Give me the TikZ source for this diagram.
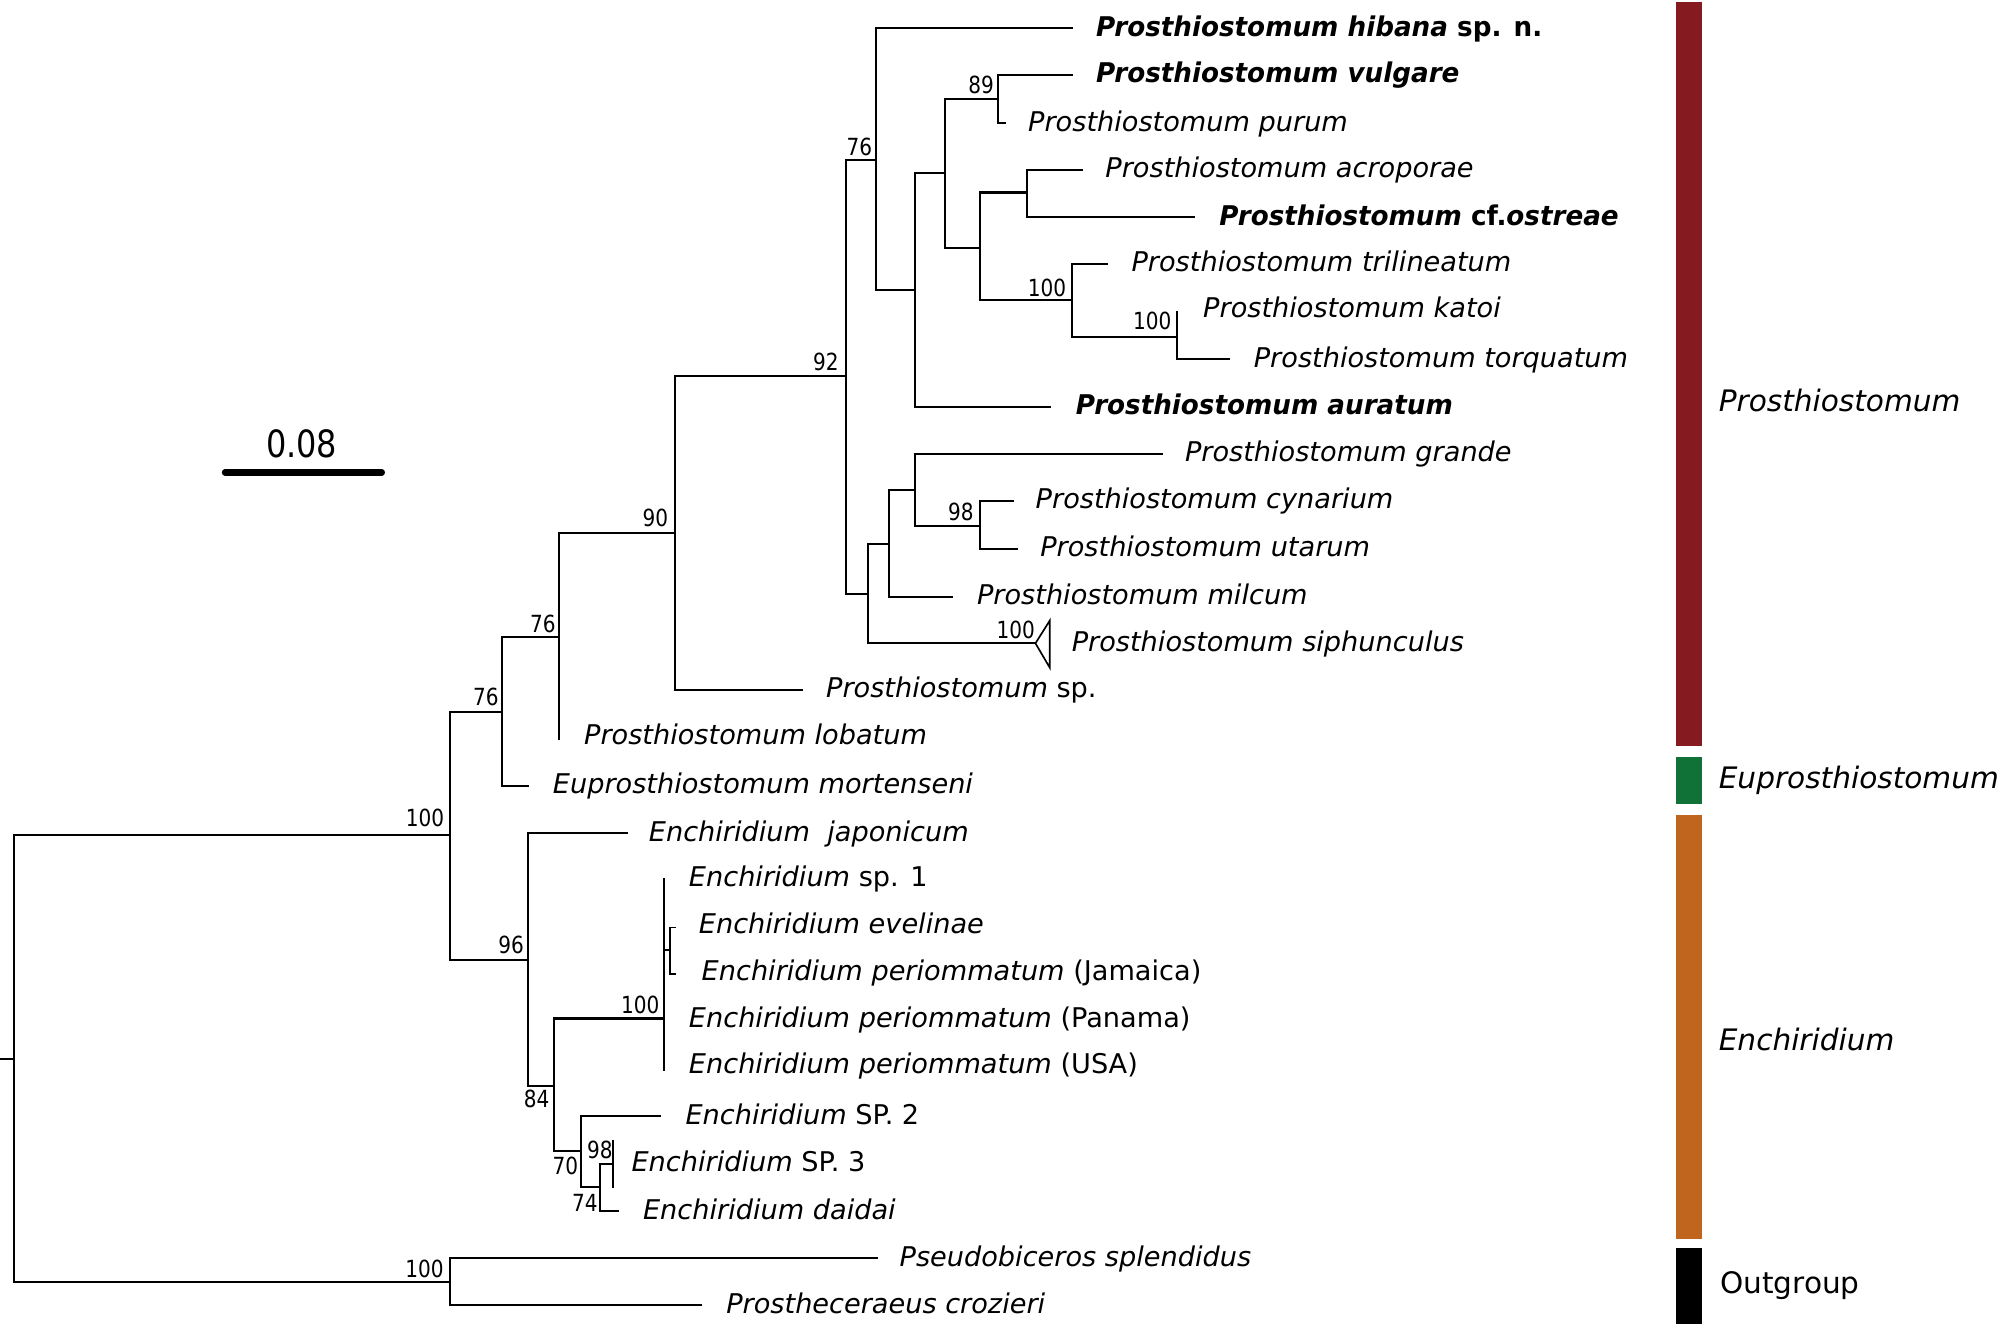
\documentclass[tikz,border=0pt]{standalone}
\usepackage{fontspec}
\setmainfont{DejaVu Sans}
\newfontfamily\condfont[FakeStretch=0.85]{DejaVu Sans}
\newfontfamily\boldfam[FakeStretch=0.965]{DejaVu Sans}
\definecolor{cladered}{HTML}{851B21}
\definecolor{cladegreen}{HTML}{117238}
\definecolor{cladeorange}{HTML}{C0651E}
\tikzset{
  br/.style={line width=1.6pt, line cap=rect},
  lab/.style={anchor=mid west, inner sep=0pt, yshift=-3.5pt, font=\fontsize{21.3}{25}\selectfont\itshape},
  blab/.style={anchor=mid west, inner sep=0pt, yshift=-3.5pt, font=\boldfam\fontsize{21.3}{25}\selectfont\bfseries\itshape},
  supp/.style={anchor=base east, inner sep=0pt, font=\condfont\fontsize{18.5}{20}\selectfont},
  glab/.style={anchor=mid west, inner sep=0pt, yshift=-5.5pt, font=\fontsize{23.2}{26}\selectfont\itshape},
}
\begin{document}
\begin{tikzpicture}[x=1pt,y=-1pt]
\useasboundingbox (0,0) rectangle (1568,1040);
% ---------- internal nodes ----------
\coordinate (S0) at (0,830.6);
\coordinate (R) at (11.3,830.6);
\coordinate (A) at (352.6,655);
\coordinate (O) at (352.6,1005.3);
\coordinate (B) at (393.9,558.2);
\coordinate (E) at (414.3,753);
\coordinate (C) at (438.1,499.3);
\coordinate (D) at (529.8,418.3);
\coordinate (F) at (663.6,295.3);
\coordinate (G) at (687.4,125.5);
\coordinate (H) at (680.7,465.9);
\coordinate (I) at (717.6,227.5);
\coordinate (J) at (741,136);
\coordinate (K) at (782.9,77.6);
\coordinate (L) at (768.9,194.3);
\coordinate (M) at (805.4,151);
\coordinate (N) at (840.5,235.3);
\coordinate (P) at (923.4,264);
\coordinate (Q) at (697.4,426.7);
\coordinate (T) at (717.6,384.1);
\coordinate (U) at (768.5,412.3);
\coordinate (V) at (434.4,851.5);
\coordinate (W) at (521,798.9);
\coordinate (EJ) at (525.4,745);
\coordinate (X) at (456,903.2);
\coordinate (Y) at (470.5,931);
\coordinate (Z) at (481.2,912.8);
% ---------- tips ----------
\coordinate (t-hib) at (840.5,22.2);
\coordinate (t-vul) at (840.5,58.8);
\coordinate (t-pur) at (788.3,96.7);
\coordinate (t-acr) at (849,133.3);
\coordinate (t-ost) at (936.9,170.5);
\coordinate (t-tri) at (868.5,207);
\coordinate (t-kat) at (923.4,244.5);
\coordinate (t-tor) at (963.9,281.8);
\coordinate (t-aur) at (823.4,319);
\coordinate (t-gra) at (911.2,356.1);
\coordinate (t-cyn) at (794.2,393);
\coordinate (t-uta) at (797.8,430.6);
\coordinate (t-mil) at (746.9,468);
\coordinate (t-sip) at (812.2,504.6);
\coordinate (sipA) at (823.4,486.8);
\coordinate (sipB) at (823.4,523.7);
\coordinate (t-psp) at (628.9,541.2);
\coordinate (t-lob) at (438.1,579.9);
\coordinate (t-mor) at (414.2,616.5);
\coordinate (t-jap) at (491.7,653.6);
\coordinate (t-sp1) at (521,689.6);
\coordinate (t-eve) at (530,727.6);
\coordinate (t-jam) at (530,764);
\coordinate (t-usa) at (521,839);
\coordinate (t-sp2) at (517.3,875.5);
\coordinate (t-s3a) at (481.2,895);
\coordinate (t-s3b) at (481.2,931);
\coordinate (t-dai) at (484.8,950.1);
\coordinate (t-spl) at (687.5,986.8);
\coordinate (t-cro) at (550.2,1023.9);
% ---------- branches ----------
\draw[br] (S0) -- (R);
\draw[br] (R) |- (A); \draw[br] (R) |- (O);
\draw[br] (A) |- (B); \draw[br] (A) |- (E);
\draw[br] (B) |- (C); \draw[br] (B) |- (t-mor);
\draw[br] (C) |- (D); \draw[br] (C) |- (t-lob);
\draw[br] (D) |- (F); \draw[br] (D) |- (t-psp);
\draw[br] (F) |- (G); \draw[br] (F) |- (H);
\draw[br] (G) |- (t-hib); \draw[br] (G) |- (I);
\draw[br] (I) |- (J); \draw[br] (I) |- (t-aur);
\draw[br] (J) |- (K); \draw[br] (J) |- (L);
\draw[br] (K) |- (t-vul); \draw[br] (K) |- (t-pur);
\draw[br] (L) |- (M); \draw[br] (L) |- (N);
\draw[br] (M) |- (t-acr); \draw[br] (M) |- (t-ost);
\draw[br] (N) |- (t-tri); \draw[br] (N) |- (P);
\draw[br] (P) |- (t-kat); \draw[br] (P) |- (t-tor);
\draw[br] (H) |- (Q); \draw[br] (H) |- (t-sip);
\draw[line width=1.3pt, line join=miter] (t-sip) -- (sipA) -- (sipB) -- cycle;
\draw[br] (Q) |- (T); \draw[br] (Q) |- (t-mil);
\draw[br] (T) |- (t-gra); \draw[br] (T) |- (U);
\draw[br] (U) |- (t-cyn); \draw[br] (U) |- (t-uta);
\draw[br] (E) |- (t-jap); \draw[br] (E) |- (V);
\draw[br] (V) |- (W); \draw[br] (V) |- (X);
\draw[br] (W) |- (t-sp1); \draw[br] (W) |- (EJ); \draw[br] (W) |- (t-usa);
\draw[line width=1.2pt] (EJ) |- (t-eve); \draw[line width=1.2pt] (EJ) |- (t-jam);
\draw[br] (X) |- (t-sp2); \draw[br] (X) |- (Y);
\draw[br] (Y) |- (Z); \draw[br] (Y) |- (t-dai);
\draw[br] (Z) |- (t-s3a); \draw[br] (Z) |- (t-s3b);
\draw[br] (O) |- (t-spl); \draw[br] (O) |- (t-cro);
% ---------- leaf labels ----------
\node[blab] (l-hib) at (859.5,22.2) {Prosthiostomum hibana {\upshape sp. n.}};
\node[blab] (l-vul) at (859.5,58.8) {Prosthiostomum vulgare};
\node[lab] (l-pur) at (806.3,96.7) {Prosthiostomum purum};
\node[lab] (l-acr) at (866.9,133.3) {Prosthiostomum acroporae};
\node[blab] (l-ost) at (956.3,170.5) {Prosthiostomum {\upshape cf.}ostreae};
\node[lab] (l-tri) at (887.4,207) {Prosthiostomum trilineatum};
\node[lab] (l-kat) at (943.6,242.5) {Prosthiostomum katoi};
\node[lab] (l-tor) at (983.3,281.8) {Prosthiostomum torquatum};
\node[blab] (l-aur) at (843.7,319) {Prosthiostomum auratum};
\node[lab] (l-gra) at (929.3,356.1) {Prosthiostomum grande};
\node[lab] (l-cyn) at (812.2,393) {Prosthiostomum cynarium};
\node[lab] (l-uta) at (815.8,430.6) {Prosthiostomum utarum};
\node[lab] (l-mil) at (766.2,468) {Prosthiostomum milcum};
\node[lab] (l-sip) at (840.5,504.6) {Prosthiostomum siphunculus};
\node[lab] (l-psp) at (647.8,541.2) {Prosthiostomum {\upshape sp.}};
\node[lab] (l-lob) at (458,577.8) {Prosthiostomum lobatum};
\node[lab] (l-mor) at (433.5,616.5) {Euprosthiostomum mortenseni};
\node[lab] (l-jap) at (508.8,653.6) {Enchiridium\ \ japonicum};
\node[lab] (l-sp1) at (540.2,689.5) {Enchiridium {\upshape sp. 1}};
\node[lab] (l-eve) at (548,726) {Enchiridium evelinae};
\node[lab] (l-jam) at (550.2,763) {Enchiridium periommatum {\upshape (Jamaica)}};
\node[lab] (l-pan) at (540.2,799.5) {Enchiridium periommatum {\upshape (Panama)}};
\node[lab] (l-usa) at (540.2,835.5) {Enchiridium periommatum {\upshape (USA)}};
\node[lab] (l-sp2) at (537.5,875.5) {Enchiridium {\upshape SP. 2}};
\node[lab] (l-sp3) at (495.2,913) {Enchiridium {\upshape SP. 3}};
\node[lab] (l-dai) at (504.2,950) {Enchiridium daidai};
\node[lab] (l-spl) at (705.5,986.8) {Pseudobiceros splendidus};
\node[lab] (l-cro) at (569.5,1023.9) {Prostheceraeus crozieri};
% ---------- support values ----------
\node[supp] (s-K) at (779.7,73.3) {89};
\node[supp] (s-G) at (684.3,121.6) {76};
\node[supp] (s-F) at (658.1,290.3) {92};
\node[supp] (s-N) at (836.5,232.6) {100};
\node[supp] (s-P) at (919.1,258.6) {100};
\node[supp] (s-U) at (763.9,408) {98};
\node[supp] (s-sip) at (811.9,500.6) {100};
\node[supp] (s-D) at (524.3,413.2) {90};
\node[supp] (s-C) at (436.1,496) {76};
\node[supp] (s-B) at (391.3,553.1) {76};
\node[supp] (s-A) at (348.6,648.5) {100};
\node[supp] (s-E) at (411.1,747.6) {96};
\node[supp] (s-W) at (517.5,794.9) {100};
\node[supp] (s-V) at (431.2,869) {84};
\node[supp] (s-X) at (453.7,921.2) {70};
\node[supp] (s-Z) at (480.8,908.5) {98};
\node[supp] (s-Y) at (469,950.1) {74};
\node[supp] (s-O) at (348.2,1002.4) {100};
% ---------- scale bar ----------
\coordinate (sb1) at (176.5,370.5);
\coordinate (sb2) at (299.5,370.5);
\draw[line width=5pt, line cap=round] (sb1) -- (sb2);
\node[inner sep=0pt, font=\condfont\fontsize{29.5}{32}\selectfont] (sbl) at (236.6,347.8) {0.08};
% ---------- clade bars ----------
\fill[cladered] (1315,1.5) rectangle (1335,585);
\fill[cladegreen] (1315,593.5) rectangle (1335,631);
\fill[cladeorange] (1315,639.5) rectangle (1335,971.5);
\fill[black] (1315,979) rectangle (1335,1038.5);
\node[glab] (g-pro) at (1348,314.5) {Prosthiostomum};
\node[glab] (g-eup) at (1348,610) {Euprosthiostomum};
\node[glab] (g-enc) at (1348,815.5) {Enchiridium};
\node[glab, font=\fontsize{23.2}{26}\selectfont\upshape] (g-out) at (1349,1006.5) {Outgroup};
\end{tikzpicture}
\end{document}
